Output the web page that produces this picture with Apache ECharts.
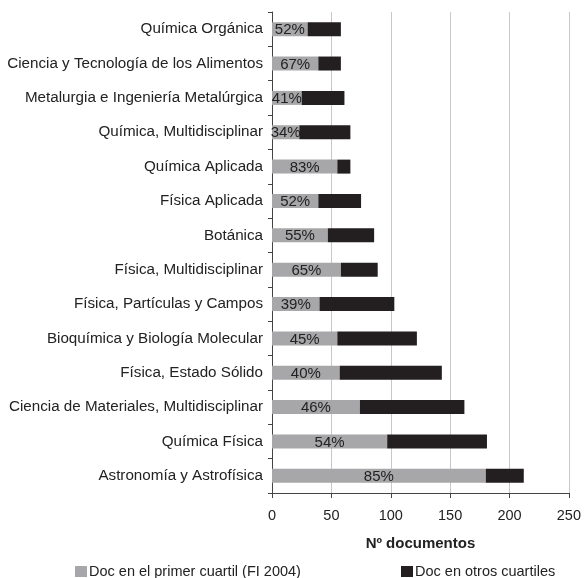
<!DOCTYPE html>
<html>
<head>
<meta charset="utf-8">
<script src="https://cdn.jsdelivr.net/npm/echarts@6/dist/echarts.min.js"></script>
<style>
html, body { margin: 0; padding: 0; background: #fff; }
#chart { width: 584px; height: 578px; }
</style>
</head>
<body>
<div id="chart"></div>
<script>
// categories top to bottom
var categories = [
	'Química Orgánica',
	'Ciencia y Tecnología de los Alimentos',
	'Metalurgia e Ingeniería Metalúrgica',
	'Química, Multidisciplinar',
	'Química Aplicada',
	'Física Aplicada',
	'Botánica',
	'Física, Multidisciplinar',
	'Física, Partículas y Campos',
	'Bioquímica y Biología Molecular',
	'Física, Estado Sólido',
	'Ciencia de Materiales, Multidisciplinar',
	'Química Física',
	'Astronomía y Astrofísica'
];
var primerCuartil = [30, 39, 25, 23, 55, 39, 47, 58, 40, 55, 57, 74, 97, 180];
var otrosCuartiles = [28, 19, 36, 43, 11, 36, 39, 31, 63, 67, 86, 88, 84, 32];
var porcentajes = ['52%', '67%', '41%', '34%', '83%', '52%', '55%', '65%', '39%', '45%', '40%', '46%', '54%', '85%'];
var xTicks = [0, 50, 100, 150, 200, 250];

var font = 'Liberation Sans, Arial, sans-serif';

var chart = echarts.init(document.getElementById('chart'));

var option = {
	animation: false,
	textStyle: { fontFamily: font },
	grid: { left: 272, right: 12, top: 12, bottom: 85, containLabel: false },
	legend: [
		{
			left: 70, top: 559, itemWidth: 12, itemHeight: 11, itemGap: 3,
			icon: 'rect',
			textStyle: { fontFamily: font, fontSize: 14.5, color: '#222', padding: [0, 0, 0, -3] },
			data: ['Doc en el primer cuartil (FI 2004)']
		},
		{
			left: 396, top: 559, itemWidth: 12, itemHeight: 11,
			icon: 'rect',
			textStyle: { fontFamily: font, fontSize: 14.5, color: '#222', padding: [0, 0, 0, -3] },
			data: ['Doc en otros cuartiles']
		}
	],
	xAxis: {
		type: 'value',
		min: xTicks[0],
		max: xTicks[xTicks.length - 1],
		interval: 50,
		name: 'Nº documentos',
		nameLocation: 'middle',
		nameGap: 43,
		nameTextStyle: { fontFamily: font, fontSize: 15, fontWeight: 'bold', color: '#222' },
		axisLine: { show: true, lineStyle: { color: '#444', width: 1 } },
		axisTick: { show: true, length: 5, lineStyle: { color: '#444' } },
		axisLabel: { fontFamily: font, fontSize: 14.5, color: '#222', margin: 15 },
		splitLine: { show: true, lineStyle: { color: '#c8c8cc', width: 1 } }
	},
	yAxis: {
		type: 'category',
		data: categories,
		inverse: true,
		axisLine: { show: true, lineStyle: { color: '#444', width: 1 } },
		axisTick: { show: true, length: 4, lineStyle: { color: '#444' } },
		axisLabel: { fontFamily: font, fontSize: 15.2, color: '#222', margin: 9 }
	},
	series: [
		{
			name: 'Doc en el primer cuartil (FI 2004)',
			type: 'bar',
			stack: 'total',
			barWidth: 14,
			data: primerCuartil,
			itemStyle: { color: '#a7a7a9' },
			label: {
				show: true,
				position: 'inside',
				offset: [0, 1],
				fontFamily: font,
				fontSize: 15,
				color: '#222',
				formatter: function (p) { return porcentajes[p.dataIndex]; }
			}
		},
		{
			name: 'Doc en otros cuartiles',
			type: 'bar',
			stack: 'total',
			barWidth: 14,
			data: otrosCuartiles,
			itemStyle: { color: '#231f20' }
		}
	]
};

chart.setOption(option);
</script>
</body>
</html>
